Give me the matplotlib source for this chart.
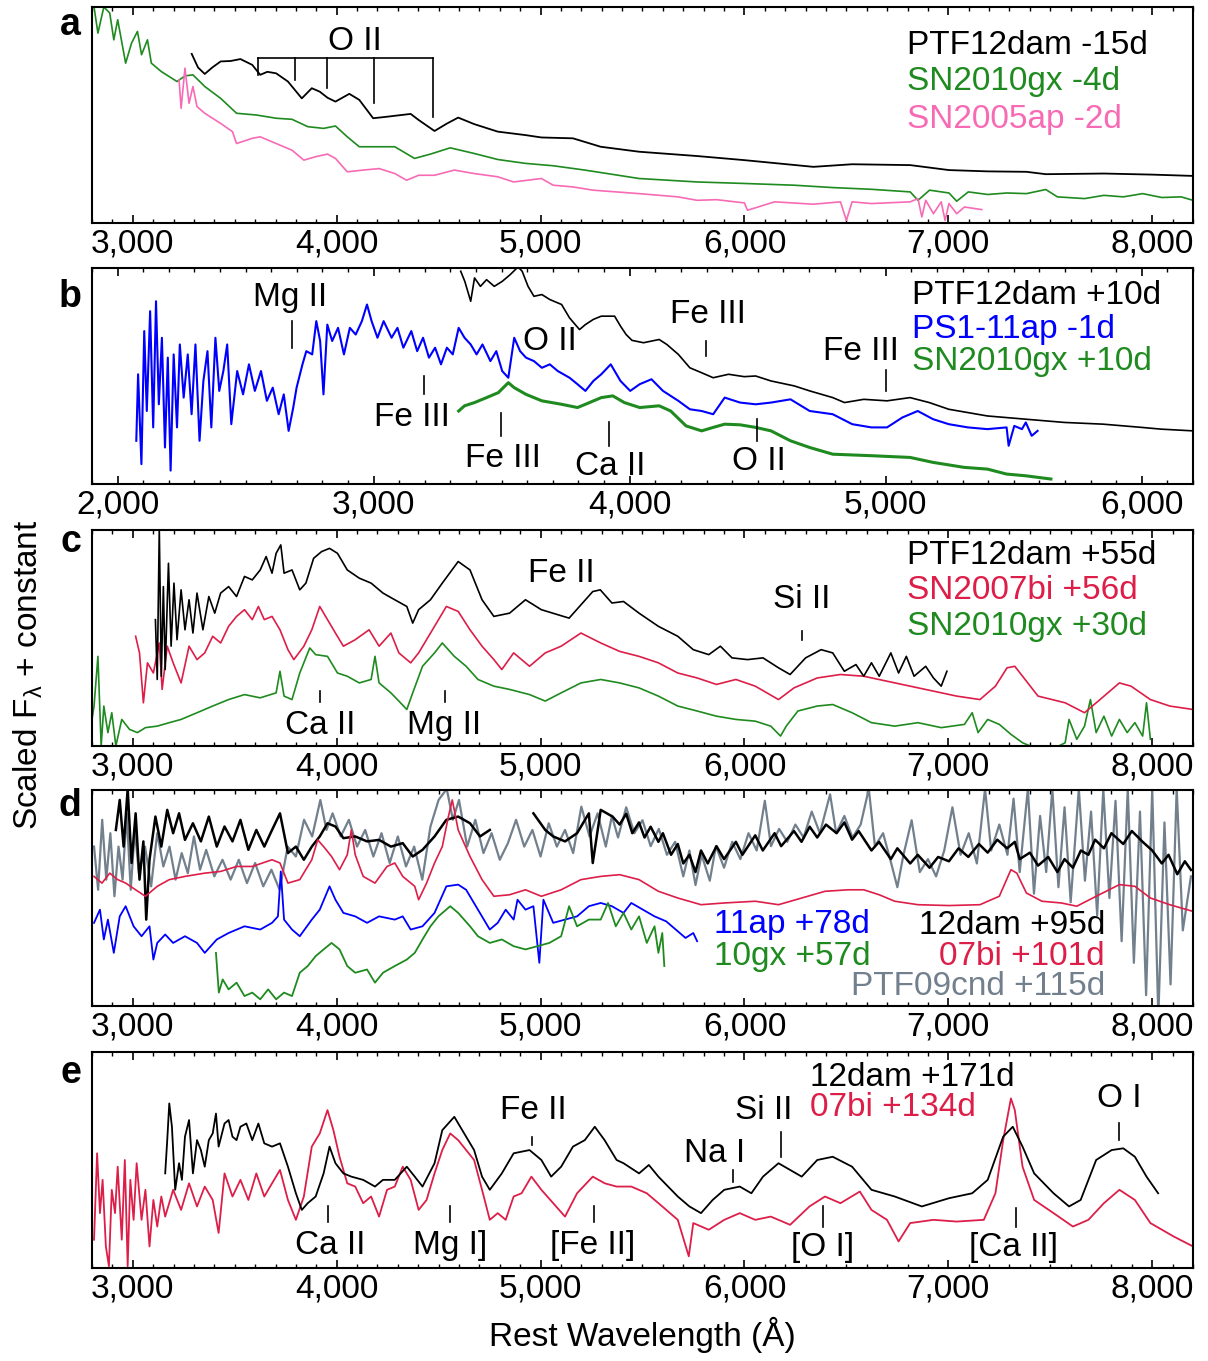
import numpy as np
import matplotlib
matplotlib.use("Agg")
import matplotlib.pyplot as plt
from matplotlib.ticker import MultipleLocator, FuncFormatter

plt.rcParams['font.family'] = ['Liberation Sans', 'DejaVu Sans']
plt.rcParams['mathtext.fontset'] = 'custom'
plt.rcParams['mathtext.rm'] = 'Liberation Sans'
plt.rcParams['mathtext.it'] = 'Liberation Sans:italic'

BLACK = 'black'
GREEN = '#1f8a1f'
PINK = '#f76bb5'
BLUE = '#0000ff'
RED = '#dc1e48'
GRAY = '#72808d'
nan = np.nan

# ---------------- panel a (flux in % of panel height) ----------------
a_12dam_wl = [3289,3320,3353,3390,3431,3480,3528,3586,3625,3660,3703,3761,3829,3878,3917,3955,3994,4062,4111,4179,
              4247,4300,4363,4402,4480,4540,4596,4674,4790,4926,5004,5159,5295,5483,5768,6000,6338,6528,6813,7003,
              7193,7383,7478,7763,8000,8200]
a_12dam_fl = [78.3,72,69.0,72,74.8,75,75.9,73.2,68.6,70,69.3,65.5,57.7,62.4,60.8,58,56.2,59.8,57.0,48.5,
              49.2,49.8,50.5,47.7,42.6,46,48.8,45.8,42.3,40.7,39.6,39.2,35.3,33.0,31.0,29.1,26.0,27.2,26.8,24.5,
              23.9,23.7,22.6,22.9,22.4,21.8]
a_10gx_wl = [2800,2810,2829,2858,2887,2907,2926,2965,2994,3023,3043,3072,3091,3140,3217,3256,3295,3353,3431,3509,
             3606,3703,3781,3858,3936,3994,4052,4111,4208,4285,4382,4460,4557,4674,4790,4926,5062,5217,5388,5483,
             5768,6000,6243,6433,6623,6813,6851,6908,7003,7041,7098,7193,7288,7383,7478,7535,7668,7763,7858,7953,
             8047,8142,8200]
a_10gx_fl = [104,100,87.9,100,97.2,84.8,94.1,74.0,83.3,88.7,77.9,84.8,74.0,70.1,65.5,68.1,68.6,63.2,57.7,50.8,
             50.0,48.5,48.0,44.6,43.8,44.9,39.9,35.3,35.3,35.3,29.9,31.9,34.8,32.2,29.4,27.6,26.5,24.5,22.0,20.6,
             19.0,18.3,17.5,16.4,15.6,14.4,10.5,15.2,13.9,10.1,14.4,13.2,13.9,13.6,15.5,12.1,11.3,12.8,12.1,13.6,
             11.8,12.1,10.5]
a_05ap_wl = [3227,3237,3256,3276,3295,3315,3353,3431,3489,3509,3586,3625,3703,3781,3839,3897,3955,3994,4052,4130,
             4208,4285,4343,4402,4480,4577,4674,4790,4868,5004,5062,5159,5257,5483,5673,5768,5863,6000,6015,6148,
             6338,6471,6500,6528,6623,6813,6851,6870,6889,6927,6965,6984,7003,7041,7079,7164]
a_05ap_fl = [66.3,53.1,71.7,55.4,63.2,53.9,50.8,46.1,42.3,36.8,39.2,39.9,36.8,33.7,29.1,30.7,31.9,29.9,23.7,24.5,
             25.2,22.9,19.8,22.1,22.1,24.5,22.9,21.4,19.0,20.6,17.5,16.7,15.2,13.6,12.1,10.5,10.8,9.3,5.9,9.8,
             8.7,9.8,1.2,9.8,9.0,9.8,11.3,2.8,10.5,4.3,9.8,1.2,9.0,4.3,7.4,6.2]

# ---------------- panel b ----------------
b_11ap_wl = [2073,2080,2093,2104,2114,2127,2139,2150,2161,2173,2185,2196,2207,2219,2232,2243,2258,2274,2289,2304,
             2320,2335,2351,2366,2382,2397,2413,2428,2444,2467,2490,2513,2536,2560,2583,2606,2629,2649,2668,2686,
             2699,2722,2737,2760,2776,2791,2804,2819,2838,2861,2884,2907,2930,2954,2974,2992,3015,3039,3070,3093,
             3116,3147,3170,3193,3216,3240,3263,3286,3309,3332,3355,3379,3402,3425,3456,3479,3502,3526,3549,3572,
             3595,3626,3657,3688,3719,3765,3796,3827,3858,3889,3926,3964,4002,4039,4085,4130,4190,4235,4281,4326,
             4371,4431,4492,4552,4628,4703,4793,4869,4944,5005,5065,5125,5185,5246,5321,5397,5472,5480,5502,5532,
             5547,5570,5593]
b_11ap_fl = [20.0,50.8,9.2,70.8,33.8,80.0,26.2,84.6,36.9,67.7,16.9,58.5,6.2,60.0,26.2,64.6,40.0,60.0,32.3,64.6,
             20.0,47.7,61.5,26.2,67.7,43.1,52.3,64.6,27.7,52.3,41.5,55.4,43.1,52.3,38.5,44.6,32.3,41.5,24.6,35.4,
             44.6,55.4,61.5,60.0,75.4,66.2,41.5,73.8,66.2,72.3,60.0,72.3,69.2,75.4,83.1,75.4,67.7,75.4,67.7,72.3,
             63.1,70.8,61.5,67.7,58.5,63.1,55.4,63.1,60.0,72.3,67.7,64.6,60.0,64.6,56.9,61.5,52.3,49.2,67.7,61.5,
             58.5,56.9,53.8,55.4,52.3,49.2,46.2,43.1,47.7,50.8,55.4,47.7,43.1,46.2,48.5,43.1,38.5,34.6,33.8,32.3,
             40.0,37.7,36.9,37.7,39.2,33.8,32.3,27.7,26.2,26.2,30.8,33.8,30.0,27.7,26.2,25.4,26.2,17.7,26.9,25.4,
             28.5,22.3,24.6]
b_12dam_wl = [3340,3356,3379,3394,3417,3441,3471,3502,3533,3564,3580,3603,3626,3657,3688,3734,3765,3804,3827,3858,
              3889,3941,3964,3986,4009,4054,4115,4145,4190,4235,4281,4326,4386,4447,4492,4552,4643,4703,4793,4839,
              4914,5005,5095,5170,5246,5397,5547,5698,5849,6000,6075,6200]
b_12dam_fl = [98.5,93.8,84.6,95.4,91.5,94.6,91.5,93.8,96.9,100.5,98.5,91.5,86.9,87.7,85.4,83.1,76.9,71.5,73.8,76.2,
              77.7,77.7,73.1,69.2,66.5,65.4,66.9,64.6,60.0,53.8,51.5,49.2,50.8,49.7,50.0,47.7,45.4,43.1,40.0,37.7,
              39.2,38.5,40.0,37.7,34.6,31.5,30.0,28.5,27.7,26.2,25.4,24.6]
b_10gx_wl = [3332,3355,3394,3441,3487,3526,3549,3595,3657,3734,3796,3827,3889,3934,3979,4039,4115,4160,4220,4281,
             4326,4371,4431,4492,4552,4628,4703,4793,4944,5095,5185,5306,5397,5472,5547,5645]
b_10gx_fl = [33.8,36.2,37.7,40.0,42.3,46.9,44.6,41.5,38.5,36.9,35.4,36.9,40.0,40.8,37.7,35.4,36.2,33.8,26.9,24.6,
             26.2,27.7,27.4,26.2,24.6,20.0,16.9,13.8,13.1,12.3,10.0,7.7,6.9,4.6,3.8,2.3]

# ---------------- panel c ----------------
c_12dam_wl = [3111,3120,3130,3140,3150,3159,3175,3188,3202,3217,3237,3256,3276,3295,3315,3344,3373,3402,3431,3470,
              3509,3548,3586,3625,3654,3683,3703,3726,3742,3781,3819,3849,3887,3926,3965,4004,4052,4111,4169,4227,
              4285,4344,4373,4402,4460,4518,4596,4654,4713,4771,4848,4926,5004,5140,5256,5293,5350,5407,5483,5578,
              5673,5749,5825,5882,5939,6015,6091,6167,6224,6300,6376,6433,6490,6547,6585,6623,6661,6718,6756,6794,
              6832,6889,6927,6965,6993]
c_12dam_fl = [58.5,30.8,100.5,32.3,73.8,35.4,84.6,46.2,75.4,49.2,72.3,53.8,67.7,52.3,70.8,53.8,69.2,61.5,70.8,73.8,
              69.2,78.5,76.9,81.5,87.7,80.0,89.2,93.1,80.0,81.5,72.3,75.4,86.9,90.0,91.5,89.2,81.5,77.7,75.4,70.8,
              67.7,64.6,56.9,63.1,67.7,75.4,85.4,81.5,67.7,60.0,61.5,67.7,63.1,59.2,71.5,72.3,66.2,66.9,61.5,55.4,
              50.8,44.6,42.3,46.2,40.8,40.0,40.8,36.2,33.1,40.8,44.6,43.1,34.6,37.7,32.3,38.5,32.3,43.1,33.8,41.5,
              32.3,36.9,31.5,27.7,34.6]
c_07bi_wl = [3014,3033,3052,3072,3101,3130,3144,3169,3198,3237,3276,3315,3353,3392,3431,3470,3509,3548,3586,3616,
             3645,3683,3722,3761,3790,3839,3878,3917,3955,3994,4033,4091,4159,4208,4266,4305,4363,4402,4480,4538,
             4596,4654,4713,4771,4810,4868,4946,5023,5101,5198,5295,5388,5483,5578,5673,5768,5863,5958,6053,6167,
             6243,6357,6471,6585,6699,6813,6927,7041,7155,7231,7288,7326,7364,7440,7573,7668,7744,7839,7896,7991,
             8086,8200]
c_07bi_fl = [50.8,43.1,20.0,38.5,33.8,47.7,26.2,46.2,38.5,29.2,46.2,40.0,43.1,50.8,47.7,55.4,60.0,63.1,58.5,64.6,
             58.5,60.0,53.8,44.6,40.0,46.2,53.8,64.6,58.5,52.3,46.2,49.2,53.8,46.2,52.3,43.1,38.5,43.1,55.4,64.6,
             62.3,53.8,46.2,40.0,35.4,43.1,36.9,43.1,46.2,52.3,47.7,43.8,41.5,38.5,33.8,31.5,28.5,30.8,27.7,21.5,
             26.9,31.5,33.1,32.3,30.0,27.7,25.4,23.1,21.5,27.7,36.2,36.9,32.3,23.1,20.0,15.4,21.5,29.2,27.7,21.5,
             18.5,16.9]
c_10gx_wl = [2800,2810,2829,2845,2858,2878,2897,2917,2946,2984,3023,3062,3120,3179,3237,3315,3392,3470,3548,3625,
             3703,3722,3742,3781,3819,3868,3897,3955,4004,4052,4111,4169,4188,4208,4266,4305,4344,4373,4421,4480,
             4518,4577,4635,4693,4771,4848,4946,5023,5101,5198,5295,5388,5483,5578,5673,5768,5863,5958,6053,6129,
             6177,6205,6262,6357,6433,6528,6623,6737,6851,6965,7079,7117,7146,7193,7250,7307,7364,7478,7573,7592,
             7630,7668,7697,7725,7763,7801,7839,7877,7915,7953,7972,7991]
c_10gx_fl = [12.3,18.5,41.5,0.0,18.5,6.2,15.4,0.0,12.3,7.7,6.2,8.5,9.2,10.8,12.3,15.4,18.5,21.5,23.8,22.3,
             24.6,34.6,23.1,21.5,33.8,45.4,42.3,41.5,33.8,32.3,29.2,30.8,41.5,29.2,24.6,20.8,16.9,24.6,36.9,43.1,
             47.7,41.5,36.9,30.8,27.7,26.2,23.8,20.8,24.6,29.2,30.8,29.2,26.9,23.1,18.5,16.2,13.8,12.3,11.5,9.2,
             4.6,9.2,16.2,18.5,19.2,15.4,10.8,9.2,10.8,8.5,10.0,15.4,6.2,12.3,10.0,5.4,1.5,-3.0,1.5,12.3,
             3.1,9.2,21.5,6.2,13.8,4.6,12.3,6.2,10.8,4.6,20.0,3.1]

# ---------------- panel d ----------------
d_09cnd_wl = [2810,2830,2850,2870,2890,2910,2930,2950,2970,2990,3010,3030,3060,3090,3120,3150,3180,3210,3240,3270,
              3300,3330,3360,3400,3440,3480,3520,3560,3600,3640,3680,3720,3760,3800,3840,3880,3920,3950,3980,4020,
              4060,4100,4140,4180,4220,4260,4300,4340,4380,4420,4460,4500,4540,4570,4600,4640,4680,4720,4760,4800,
              4840,4880,4920,4960,5000,5040,5080,5120,5160,5200,5240,5280,5320,
              5350,5380,5420,5460,5500,5540,5580,5620,5660,5700,5730,5760,5790,5830,5860,5900,5940,5980,6020,6060,
              6100,6130,6170,6210,6250,6290,6330,6370,6420,6450,6490,6530,6570,6610,6640,6680,6720,6750,6780,6820,
              6860,6900,6940,6980,7020,7060,7100,7140,7180,7210,7250,7290,7320,7350,7390,7420,7450,7480,7510,7540,
              7570,7600,7640,7670,7700,7730,7760,7790,7820,7850,7880,7910,7940,7970,8000,8030,8060,8090,8120,8150,
              8190]
d_09cnd_fl = [73.8,53.8,86.2,58.5,80.0,50.8,73.8,58.5,89.2,53.8,81.5,61.5,73.8,55.4,80.0,64.6,73.8,58.5,70.8,61.5,
              78.5,63.1,72.3,60.0,67.7,58.5,67.7,56.9,66.2,55.4,63.1,53.8,73.8,69.2,86.2,78.5,95.4,81.5,89.2,78.5,
              86.2,73.8,81.5,69.2,80.0,66.2,78.5,64.6,73.8,58.5,83.1,95.4,100.5,86.2,95.4,73.8,86.2,70.8,80.0,67.7,
              75.4,86.2,73.8,81.5,69.2,84.6,73.8,81.5,70.8,92.3,78.5,89.2,73.8,
              88,78,92,80,86,74,82,70,76,60,72,56,70,58,74,64,76,68,80,72,
              95,74,82,76,84,78,90,80,98,80,88,78,84,100.5,74,80,66,55,70,86,
              62,68,60,72,92,70,80,66,100.5,72,84,70,96,62,100.5,52,88,62,100.5,55,
              92,48,100.5,58,90,42,100.5,50,95,30,100.5,20,90,5,100.5,-5,85,10,100.5,35,
              60]
d_12dam_wl = [2917,2936,2955,2975,2994,3014,3033,3052,3066,3082,3111,3140,3169,3198,3227,3256,3295,3334,3373,3412,
              3450,3489,3528,3567,3606,3645,3683,3722,3761,3800,3839,3878,3917,3955,3994,4033,4091,4149,4208,4266,
              4324,4373,4421,4480,4538,4596,4654,4703,4751,4760,4965,5023,5062,5120,5179,5237,5256,5295,5353,
              5388,5420,5450,5483,5510,5540,5578,5600,5640,5673,5700,5730,5760,5787,5820,5863,5900,5958,5990,6053,
              6090,6148,6180,6243,6280,6320,6357,6400,6452,6490,6528,6560,6623,6660,6718,6750,6813,6850,6908,6950,
              7003,7050,7098,7150,7193,7240,7288,7326,7350,7400,7440,7490,7535,7570,7611,7650,7687,7720,7763,7800,
              7858,7900,7953,8000,8047,8080,8123,8160,8190]
d_12dam_fl = [81.5,95.4,73.8,100.5,66.2,89.2,58.5,76.2,40.0,67.7,87.7,73.8,90.8,80.0,89.2,76.9,84.6,76.2,87.7,73.8,
              83.1,76.2,86.2,72.3,81.5,73.8,81.5,89.2,70.8,73.8,67.7,73.8,78.5,84.6,83.1,77.7,78.5,76.2,76.9,73.8,
              75.4,69.2,72.3,78.5,86.2,87.7,84.6,78.5,81.5,nan,89.2,81.5,78.5,76.2,80.0,89.2,66.2,90.8,87.7,
              84,89,80,85,78,83,76,80,70,75,66,70,62,72,66,74,68,76,70,79,
              72,80,74,81,76,83,78,84,80,85,77,81,72,76,68,73,66,70,64,69,
              67,73,69,75,71,77,73,76,68,71,65,69,62,68,64,72,70,77,73,80,
              75,81,76,72,66,70,61,67,63]
d_07bi_wl = [2810,2849,2887,2926,2965,3014,3062,3120,3179,3256,3353,3431,3509,3586,3683,3722,3761,3819,3878,3907,
             3936,3975,4014,4052,4072,4091,4130,4188,4247,4285,4324,4383,4402,4441,4480,4518,4548,4567,4596,4654,
             4713,4771,4848,4926,5004,5101,5198,5295,5388,5483,5578,5673,5787,5901,6053,6167,6281,6395,6509,6585,
             6661,6737,6851,7003,7155,7250,7307,7336,7383,7459,7554,7630,7725,7839,7915,7991,8086,8200]
d_07bi_fl = [60.0,56.9,61.5,58.5,56.9,53.8,50.8,55.4,58.5,60.0,61.5,62.3,64.6,64.6,67.7,66.2,56.9,58.5,67.7,76.9,
             73.8,69.2,63.1,70.0,81.5,70.0,60.0,56.9,64.6,66.2,60.0,55.4,49.2,56.9,66.2,73.8,87.7,95.4,81.5,69.2,
             58.5,50.8,51.5,53.8,50.8,53.8,58.5,60.0,60.8,58.5,53.1,50.0,46.9,47.7,48.5,46.9,50.0,53.1,53.8,53.8,
             51.5,48.5,46.9,46.5,46.9,50.8,63.1,61.5,52.3,48.5,47.7,46.2,50.8,56.2,55.4,50.0,46.9,43.8]
d_11ap_wl = [2810,2839,2858,2878,2907,2936,2965,3004,3043,3082,3101,3120,3159,3198,3256,3315,3353,3412,3470,3548,
             3625,3683,3712,3726,3742,3781,3819,3878,3917,3965,3994,4033,4091,4149,4208,4285,4324,4363,4421,4480,
             4538,4596,4635,4693,4751,4790,4829,4868,4887,4926,4965,4994,5014,5062,5120,5179,5237,5295,5350,5407,
             5445,5502,5559,5616,5673,5711,5749,5768]
d_11ap_fl = [38.5,44.6,30.8,40.0,24.6,41.5,46.2,36.9,32.3,36.9,21.5,29.2,33.1,29.2,32.3,29.2,24.6,30.8,33.8,36.9,
             35.4,38.5,41.5,62.3,40.0,35.4,32.3,40.0,44.6,55.4,49.2,43.1,41.5,38.5,41.5,40.0,41.5,35.4,36.9,43.1,
             55.4,56.2,53.8,44.6,35.4,38.5,44.6,40.0,49.2,44.6,46.2,20.0,49.2,38.5,40.0,41.5,46.2,47.7,46.2,43.1,
             47.7,44.6,41.5,39.2,34.6,31.5,33.8,30.0]
d_10gx_wl = [3408,3422,3441,3470,3509,3548,3586,3625,3664,3703,3742,3781,3819,3858,3897,3936,3975,4014,4052,4091,
             4149,4188,4227,4285,4344,4383,4421,4460,4499,4557,4596,4654,4693,4751,4810,4868,4926,4985,5043,5101,
             5140,5179,5237,5295,5331,5369,5407,5445,5483,5521,5559,5578,5597,5607]
d_10gx_fl = [24.6,6.2,12.3,7.7,10.8,4.6,6.2,3.1,7.7,3.1,6.2,4.6,15.4,18.5,23.1,26.2,29.2,26.2,18.5,15.4,
             16.9,10.8,15.4,18.5,21.5,24.6,30.8,36.9,41.5,46.2,43.1,36.9,32.3,29.2,30.8,27.7,26.2,27.7,29.2,32.3,
             46.2,36.9,40.0,40.0,47.7,36.9,43.1,35.4,41.5,29.2,36.9,24.6,33.8,18.5]

# ---------------- panel e ----------------
e_12dam_wl = [3159,3169,3179,3192,3208,3227,3241,3256,3276,3295,3315,3334,3353,3373,3392,3408,3421,3450,3470,3489,
              3509,3528,3557,3586,3616,3645,3683,3722,3761,3800,3829,3858,3897,3936,3965,3994,4033,4072,4130,4188,
              4227,4285,4344,4383,4421,4480,4518,4577,4616,4674,4713,4751,4810,4868,4946,5004,5052,5101,5159,5217,
              5266,5314,5373,5407,5483,5531,5578,5673,5730,5787,5844,5901,5977,6034,6091,6167,6224,6281,6357,6433,
              6528,6623,6737,6870,7003,7117,7193,7269,7316,7364,7421,7516,7592,7649,7725,7801,7858,7915,7972,8029]
e_12dam_fl = [43.8,59.2,76.2,65.4,36.2,48.5,40.8,60.8,68.5,43.8,59.2,54.6,46.9,59.2,62.3,71.5,56.2,66.9,68.5,60.8,
              59.2,65.4,66.9,59.2,66.9,57.7,56.2,57.7,46.9,34.6,26.9,30.0,33.1,43.8,56.2,48.5,43.8,42.3,40.8,37.7,
              40.8,40.8,46.9,42.3,37.7,48.5,63.8,70.0,63.8,54.6,42.3,36.2,43.8,53.1,54.6,50.0,42.3,46.9,56.2,59.2,
              65.4,59.2,50.0,48.5,43.8,47.7,42.3,33.1,28.5,25.4,31.5,36.2,37.7,34.6,42.3,48.5,45.4,42.3,50.0,51.5,
              46.9,36.2,33.1,28.5,32.3,34.6,40.8,60.8,65.4,56.2,43.8,34.6,28.5,31.5,50.0,54.6,55.4,51.5,42.3,34.6]
e_07bi_wl = [2810,2825,2839,2852,2868,2883,2897,2913,2926,2946,2961,2975,2988,3004,3019,3043,3062,3082,3101,3120,
             3140,3159,3198,3237,3276,3315,3353,3392,3421,3450,3489,3528,3567,3606,3645,3683,3722,3761,3800,3839,
             3878,3917,3955,3984,4014,4052,4091,4130,4169,4208,4247,4285,4324,4363,4402,4441,4480,4518,4557,4596,
             4635,4674,4713,4751,4790,4829,4868,4907,4955,5004,5062,5120,5179,5256,5315,5373,5445,5521,5597,5673,
             5727,5749,5825,5901,5977,6053,6129,6224,6319,6395,6471,6566,6623,6699,6756,6813,6927,7041,7174,7231,
             7269,7307,7326,7364,7421,7516,7611,7687,7763,7839,7915,7991,8105,8200]
e_07bi_fl = [13.1,53.1,25.4,40.8,10.0,0.8,36.2,25.4,46.9,13.1,50.0,0.8,40.8,22.3,48.5,22.3,36.2,10.0,31.5,19.2,
             33.1,23.8,36.2,26.9,39.2,28.5,37.7,31.5,16.2,43.8,33.1,40.8,31.5,43.8,33.1,39.2,45.4,31.5,22.3,33.1,
             56.2,62.3,73.1,63.8,51.5,39.2,37.7,30.0,33.1,23.8,36.2,37.7,46.9,40.8,26.9,31.5,43.8,54.6,62.3,59.2,
             54.6,50.0,36.2,22.3,25.4,22.3,33.1,34.6,42.3,36.2,30.0,23.8,34.6,42.3,39.2,37.7,37.7,34.6,28.5,22.3,
             5.4,20.8,17.7,22.3,25.4,22.3,23.8,20.0,28.5,33.1,30.0,35.4,26.9,22.3,12.3,20.8,22.3,21.5,22.3,34.6,
             59.2,78.5,73.1,46.9,31.5,25.4,19.2,22.3,30.0,36.2,31.5,20.8,14.6,10.0]

# ---------------- figure ----------------
fig = plt.figure(figsize=(12.08, 13.61), dpi=100)
W, H = 1208.0, 1361.0
tops = [7, 268, 530, 790, 1052]
axes = [fig.add_axes([92 / W, 1 - (t + 216) / H, 1101 / W, 216 / H]) for t in tops]
ax_a, ax_b, ax_c, ax_d, ax_e = axes
FS = 24

fmt = FuncFormatter(lambda v, p: f"{int(round(v)):,}")
for ax, xl in zip(axes, [(2800, 8200), (1900, 6200), (2800, 8200), (2800, 8200), (2800, 8200)]):
    ax.set_xlim(*xl)
    ax.set_ylim(0, 100)
    ax.set_yticks([])
    ax.xaxis.set_major_locator(MultipleLocator(1000))
    ax.xaxis.set_minor_locator(MultipleLocator(100))
    ax.xaxis.set_major_formatter(fmt)
    ax.tick_params(axis='x', which='major', direction='in', top=True, length=6, width=1.2,
                   labelsize=FS, pad=4)
    ax.tick_params(axis='x', which='minor', direction='in', top=True, length=3, width=1.0)
    for s in ax.spines.values():
        s.set_linewidth(1.5)


def mark(ax, x, y0, y1):
    ax.plot([x, x], [y0, y1], color='black', lw=1.2)


def label(ax, x, y, s, **kw):
    ax.text(x, y, s, ha='center', va='center', fontsize=FS, **kw)


def legend(ax, x, ys, texts, colors, ha='left'):
    for y, t, c in zip(ys, texts, colors):
        ax.text(x, y, t, color=c, fontsize=FS, ha=ha, va='center', transform=ax.transAxes)


# panel a
ax_a.plot(a_10gx_wl, a_10gx_fl, color=GREEN, lw=1.2)
ax_a.plot(a_05ap_wl, a_05ap_fl, color=PINK, lw=1.2)
ax_a.plot(a_12dam_wl, a_12dam_fl, color=BLACK, lw=1.3)
ax_a.plot([3616, 4474], [76.3, 76.3], color='black', lw=1.2)
for x, y in zip([3616, 3796, 3955, 4183, 4474], [68.6, 66.3, 62.4, 55.7, 48.9]):
    mark(ax_a, x, 76.3, y)
label(ax_a, 4091, 84, 'O II')
legend(ax_a, 0.74, [0.824, 0.653, 0.481], ['PTF12dam -15d', 'SN2010gx -4d', 'SN2005ap -2d'],
       [BLACK, GREEN, PINK])

# panel b
ax_b.plot(b_12dam_wl, b_12dam_fl, color=BLACK, lw=1.2)
ax_b.plot(b_11ap_wl, b_11ap_fl, color=BLUE, lw=1.5)
ax_b.plot(b_10gx_wl, b_10gx_fl, color=GREEN, lw=2.2)
label(ax_b, 2675, 86.5, 'Mg II'); mark(ax_b, 2680, 75.4, 63.1)
label(ax_b, 3150, 31, 'Fe III'); mark(ax_b, 3196, 50.0, 41.5)
label(ax_b, 3505, 12, 'Fe III'); mark(ax_b, 3499, 33.0, 22.3)
label(ax_b, 3690, 66, 'O II')
label(ax_b, 3925, 8.3, 'Ca II'); mark(ax_b, 3920, 28.5, 17.7)
label(ax_b, 4304, 78.3, 'Fe III'); mark(ax_b, 4299, 66.2, 59.2)
label(ax_b, 4902, 61.3, 'Fe III'); mark(ax_b, 5000, 53.0, 43.0)
label(ax_b, 4503, 10.5, 'O II'); mark(ax_b, 4499, 30.0, 20.0)
legend(ax_b, 0.745, [0.871, 0.714, 0.567], ['PTF12dam +10d', 'PS1-11ap -1d', 'SN2010gx +10d'],
       [BLACK, BLUE, GREEN])

# panel c
ax_c.plot(c_10gx_wl, c_10gx_fl, color=GREEN, lw=1.2)
ax_c.plot(c_07bi_wl, c_07bi_fl, color=RED, lw=1.2)
ax_c.plot(c_12dam_wl, c_12dam_fl, color=BLACK, lw=1.2)
label(ax_c, 5101, 80, 'Fe II')
label(ax_c, 6281, 68, 'Si II'); mark(ax_c, 6281, 53.1, 49.2)
label(ax_c, 3917, 9.5, 'Ca II'); mark(ax_c, 3917, 25.4, 20.3)
label(ax_c, 4528, 9.5, 'Mg II'); mark(ax_c, 4532, 25.4, 20.3)
legend(ax_c, 0.74, [0.880, 0.718, 0.551], ['PTF12dam +55d', 'SN2007bi +56d', 'SN2010gx +30d'],
       [BLACK, RED, GREEN])

# panel d
ax_d.plot(d_09cnd_wl, d_09cnd_fl, color=GRAY, lw=1.6)
ax_d.plot(d_12dam_wl, d_12dam_fl, color=BLACK, lw=1.8)
ax_d.plot(d_07bi_wl, d_07bi_fl, color=RED, lw=1.2)
ax_d.plot(d_11ap_wl, d_11ap_fl, color=BLUE, lw=1.3)
ax_d.plot(d_10gx_wl, d_10gx_fl, color=GREEN, lw=1.3)
legend(ax_d, 0.565, [0.375, 0.227], ['11ap +78d', '10gx +57d'], [BLUE, GREEN])
legend(ax_d, 0.92, [0.375, 0.227, 0.088], ['12dam +95d', '07bi +101d', 'PTF09cnd +115d'],
       [BLACK, RED, GRAY], ha='right')

# panel e
ax_e.plot(e_07bi_wl, e_07bi_fl, color=RED, lw=1.3)
ax_e.plot(e_12dam_wl, e_12dam_fl, color=BLACK, lw=1.3)
label(ax_e, 4965, 73, 'Fe II'); mark(ax_e, 4959, 60.8, 56.9)
label(ax_e, 3968, 10.6, 'Ca II'); mark(ax_e, 3959, 28.5, 21.1)
label(ax_e, 4557, 10.6, 'Mg I]'); mark(ax_e, 4557, 28.5, 21.1)
label(ax_e, 5255, 10.6, '[Fe II]'); mark(ax_e, 5262, 28.5, 21.1)
label(ax_e, 6384, 9.3, '[O I]'); mark(ax_e, 6385, 28.5, 19.2)
label(ax_e, 7321, 9.3, '[Ca II]'); mark(ax_e, 7331, 27.7, 19.2)
label(ax_e, 5853, 52.8, 'Na I'); mark(ax_e, 5943, 45.4, 40.0)
label(ax_e, 6094, 73, 'Si II'); mark(ax_e, 6177, 63.1, 51.5)
label(ax_e, 7837, 78.7, 'O I'); mark(ax_e, 7839, 66.9, 59.2)
legend(ax_e, 0.652, [0.880, 0.741], ['12dam +171d', '07bi +134d'], [BLACK, RED])

# panel letters
for ax, s, y in zip(axes, 'abcde', [0.870, 0.82, 0.90, 0.88, 0.856]):
    ax.text(-0.01, y, s, transform=ax.transAxes, ha='right', va='baseline',
            fontsize=27, fontweight='bold')

fig.text(642 / W, 1 - 1335 / H, 'Rest Wavelength (Å)', ha='center', va='center', fontsize=FS)
fig.text(28 / W, 1 - 675 / H, r'Scaled F$_{\mathregular{\lambda}}$ + constant', rotation=90,
         ha='center', va='center', fontsize=FS)

fig.savefig('out.png', dpi=100)
